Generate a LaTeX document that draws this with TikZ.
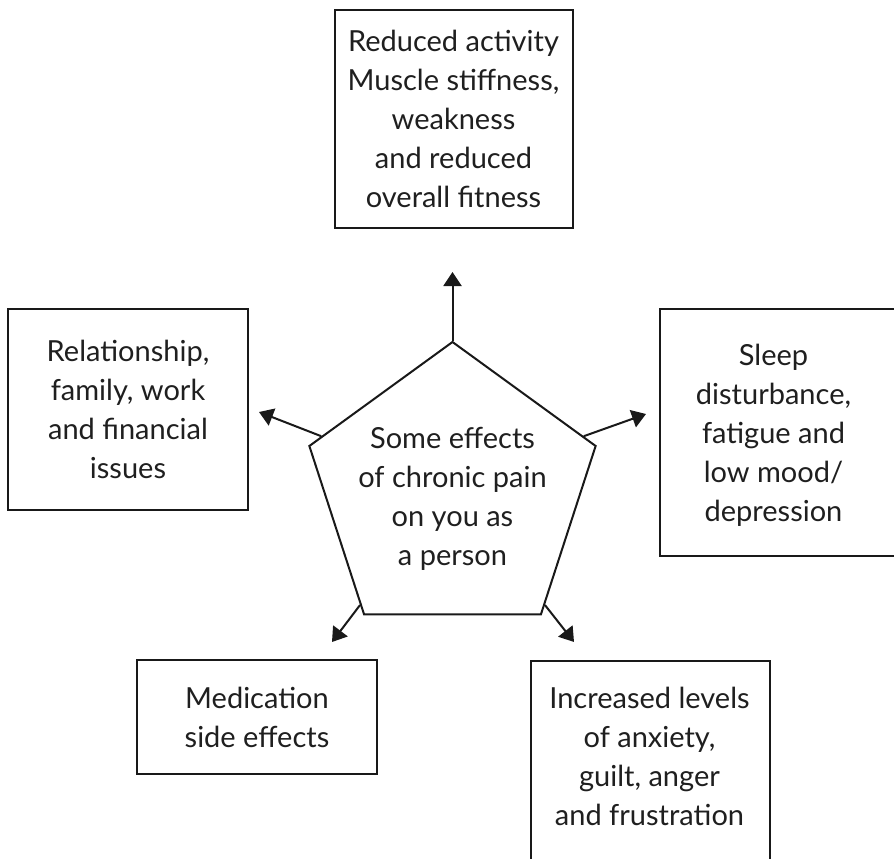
\documentclass[tikz,border=0pt]{standalone}
\usepackage{fontspec}
\setmainfont{Lato}
\usetikzlibrary{arrows.meta,shapes.geometric,calc}
\begin{document}
\begin{tikzpicture}[x=1pt,y=-1pt,
  txt/.style={align=center, text=black!88, font=\fontsize{29}{39}\selectfont, inner sep=0pt},
  box/.style={txt, draw=black!90, line width=2pt},
  arr/.style={line width=2pt, draw=black!90, -{Triangle[length=14pt,width=18pt]}}]
\useasboundingbox (0,0) rectangle (894,859);
\clip (0,0) rectangle (894,859);
% boxes
\node[box, minimum width=238pt, minimum height=218pt] (top) at (453.5,119)
  {Reduced activity\\Muscle stiffness,\\weakness\\and reduced\\overall fitness};
\node[box, minimum width=240pt, minimum height=201pt] (lft) at (128,409)
  {Relationship,\\family, work\\and financial\\issues};
\node[box, anchor=north west, minimum width=250pt, minimum height=247pt] (rgt) at (659,308) {};
\node[txt] (rgtxt) at (773.5,435) {Sleep\\disturbance,\\fatigue and\\low mood/\\depression};
\node[box, minimum width=240pt, minimum height=114pt] (bl) at (257,717)
  {Medication\\side effects};
\node[box, anchor=north west, minimum width=239pt, minimum height=240pt] (br) at (530,660) {};
\node[txt] (brtxt) at (649.5,756) {Increased levels\\of anxiety,\\guilt, anger\\and frustration};
% pentagon
\node[txt, draw=black!90, line width=2pt, regular polygon, regular polygon sides=5,
      minimum size=301pt] (pen) at (452.5,492.5) {};
\node[txt, text depth=0pt] (pentxt) at (452.5,496) {Some effects\\of chronic pain\\on you as\\a person};
% arrow ends
\coordinate (tTop) at (452.5,272);
\coordinate (tLft) at (259,412);
\coordinate (tRgt) at (646,414);
\coordinate (tBl) at (332,642);
\coordinate (tBr) at (574,642);
\draw[arr] (pen.corner 1) -- (tTop);
\draw[arr] ($(pen.corner 2)!0.09!(pen.corner 1)$) -- (tLft);
\draw[arr] ($(pen.corner 5)!0.09!(pen.corner 1)$) -- (tRgt);
\draw[arr] ($(pen.corner 3)!0.06!(pen.corner 2)$) -- (tBl);
\draw[arr] ($(pen.corner 4)!0.06!(pen.corner 5)$) -- (tBr);
\end{tikzpicture}
\end{document}
